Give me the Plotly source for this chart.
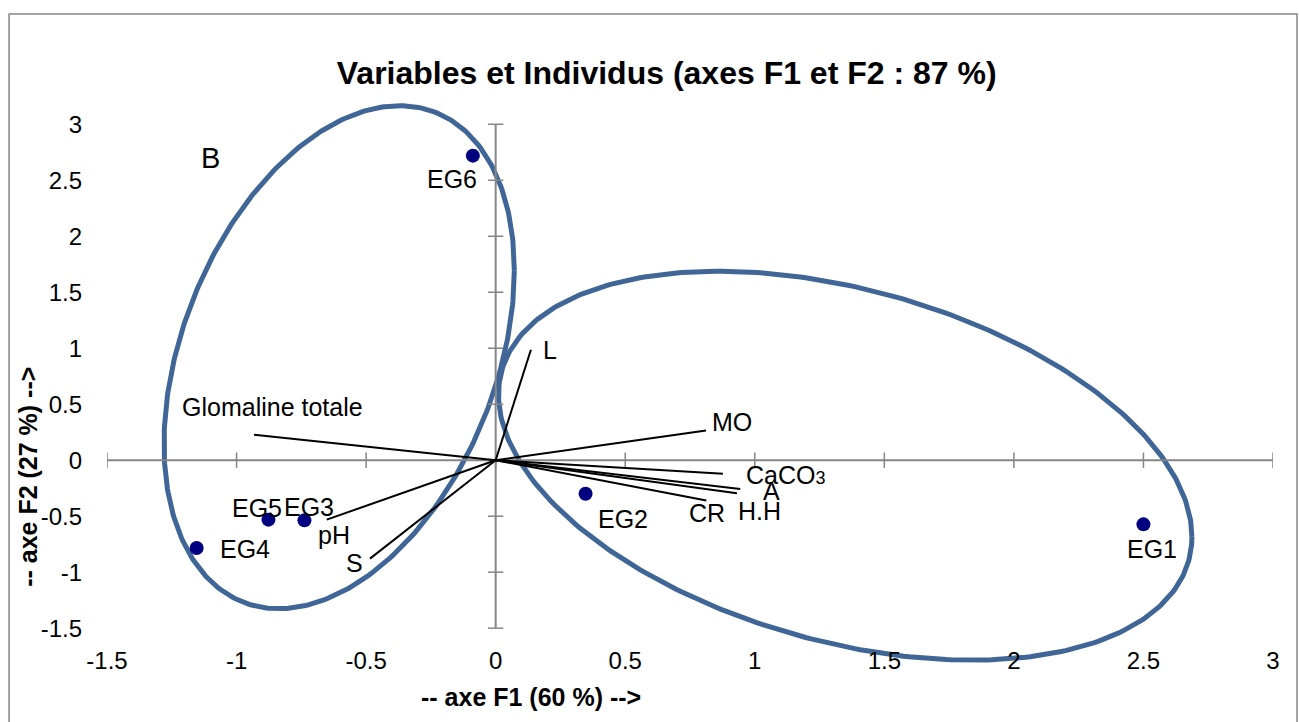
import numpy as np
import plotly.graph_objects as go

# ---- data ----
ind_names = ["EG1", "EG2", "EG3", "EG4", "EG5", "EG6"]
ind_f1 = [2.50, 0.347, -0.738, -1.154, -0.877, -0.088]
ind_f2 = [-0.573, -0.30, -0.537, -0.784, -0.531, 2.72]

var_names = ["L", "MO", "CaCO3", "A", "H.H", "CR", "Glomaline totale", "pH", "S"]
var_f1 = [0.136, 0.812, 0.877, 0.944, 0.931, 0.813, -0.932, -0.652, -0.485]
var_f2 = [0.987, 0.266, -0.121, -0.257, -0.296, -0.359, 0.228, -0.531, -0.879]

tick_vals = [-1.5, -1, -0.5, 0, 0.5, 1, 1.5, 2, 2.5, 3]
tick_text = ["-1.5", "-1", "-0.5", "0", "0.5", "1", "1.5", "2", "2.5", "3"]

# group ellipses: centre (F1, F2), half-extent in F1, half-extent in F2, covariance term
ell_cx = [-0.604, 1.349]
ell_cy = [0.92, -0.049]
ell_hx = [0.676, 1.338]
ell_hy = [2.246, 1.737]
ell_c = [0.523, -0.848]

# ---- styling / placement ----
FONT = "Liberation Sans, Arial, sans-serif"
AX_COL = "#868686"
ELL_COL = "#3F6696"
ind_offsets = {"EG1": (9, 25), "EG2": (37, 25), "EG3": (5, -13), "EG4": (48, 1),
               "EG5": (-11, -12), "EG6": (-21, 23)}
var_offsets = {"L": (19, 0), "MO": (26, -8), "CaCO3": (63, 1), "A": (31, 2), "H.H": (23, 18),
               "CR": (1, 13), "Glomaline totale": (18, -28), "pH": (7, 15), "S": (-16, 4)}
Y_RANGE = [-1.82, 3.19]
X_RANGE = [-1.5, 3]

fig = go.Figure()

# ellipses
t = np.linspace(0, 2 * np.pi, 400)
for cx, cy, hx, hy, c in zip(ell_cx, ell_cy, ell_hx, ell_hy, ell_c):
    ex = cx + hx * np.cos(t)
    ey = cy + (c / hx) * np.cos(t) + np.sqrt(hy ** 2 - (c / hx) ** 2) * np.sin(t)
    fig.add_trace(go.Scatter(x=ex, y=ey, mode="lines", line=dict(color=ELL_COL, width=5),
                             hoverinfo="skip", showlegend=False))

# axes through the origin
fig.add_trace(go.Scatter(x=[tick_vals[0], tick_vals[-1]], y=[0, 0], mode="lines",
                         line=dict(color=AX_COL, width=2), hoverinfo="skip", showlegend=False))
fig.add_trace(go.Scatter(x=[0, 0], y=[tick_vals[0], tick_vals[-1]], mode="lines",
                         line=dict(color=AX_COL, width=2), hoverinfo="skip", showlegend=False))
fig.add_trace(go.Scatter(x=tick_vals, y=[0] * len(tick_vals), mode="markers",
                         marker=dict(symbol="line-ns", size=11, line=dict(color=AX_COL, width=1.5)),
                         hoverinfo="skip", showlegend=False))
fig.add_trace(go.Scatter(x=[0] * len(tick_vals), y=tick_vals, mode="markers",
                         marker=dict(symbol="line-ew", size=11, line=dict(color=AX_COL, width=1.5)),
                         hoverinfo="skip", showlegend=False))

# variable vectors
vx, vy = [], []
for a, b in zip(var_f1, var_f2):
    vx += [0, a, None]
    vy += [0, b, None]
fig.add_trace(go.Scatter(x=vx, y=vy, mode="lines", line=dict(color="black", width=2),
                         hoverinfo="skip", showlegend=False))

# individuals
fig.add_trace(go.Scatter(x=ind_f1, y=ind_f2, mode="markers",
                         marker=dict(color="#000080", size=14), text=ind_names,
                         hoverinfo="text", showlegend=False))

annotations = []
for n, a, b in zip(ind_names, ind_f1, ind_f2):
    dx, dy = ind_offsets[n]
    annotations.append(dict(x=a, y=b, text=n, showarrow=False, xshift=dx, yshift=-dy,
                            font=dict(size=25, color="black", family=FONT)))
for n, a, b in zip(var_names, var_f1, var_f2):
    dx, dy = var_offsets[n]
    label = "CaCO<span style='font-size:18px'>3</span>" if n == "CaCO3" else n
    annotations.append(dict(x=a, y=b, text=label, showarrow=False, xshift=dx, yshift=-dy,
                            font=dict(size=25, color="black", family=FONT)))

# group label B
annotations.append(dict(x=-1.102, y=2.70, text="B", showarrow=False,
                        font=dict(size=29, color="black", family=FONT)))

# axis titles
annotations.append(dict(xref="paper", yref="paper", x=0.364, y=-0.0586, xanchor="center", yanchor="middle",
                        text="<b>-- axe F1 (60 %) --></b>",
                        showarrow=False, font=dict(size=25, color="black", family=FONT)))
annotations.append(dict(xref="paper", yref="paper", x=-0.0678, y=0.3335, xanchor="center", yanchor="middle",
                        text="<b>-- axe F2 (27 %) --></b>",
                        textangle=-90, showarrow=False, font=dict(size=25, color="black", family=FONT)))

fig.update_layout(
    width=1299, height=722,
    margin=dict(l=107, r=26, t=103, b=58),
    paper_bgcolor="white", plot_bgcolor="white",
    title=dict(text="<b>Variables et Individus (axes F1 et F2 : 87 %)</b>",
               x=0.480, xref="paper", xanchor="center", y=0.899, yanchor="middle",
               font=dict(size=32, color="black", family=FONT)),
    annotations=annotations,
    shapes=[dict(type="rect", xref="paper", yref="paper", x0=-0.084, x1=1.0206, y0=-0.126, y1=1.1586,
                 line=dict(color=AX_COL, width=1.5), layer="below")],
    font=dict(family=FONT, color="black"),
)
fig.update_xaxes(range=X_RANGE, tickvals=tick_vals, ticktext=tick_text, showgrid=False,
                 zeroline=False, showline=False, ticks="", ticklabelstandoff=16,
                 anchor="free", position=(tick_vals[0] - Y_RANGE[0]) / (Y_RANGE[1] - Y_RANGE[0]),
                 tickfont=dict(size=24, color="black", family=FONT))
fig.update_yaxes(range=Y_RANGE, tickvals=tick_vals, ticktext=tick_text, showgrid=False,
                 zeroline=False, showline=False, ticks="", ticklabelstandoff=24,
                 tickfont=dict(size=24, color="black", family=FONT))

fig.write_html("out.html", config={"displayModeBar": False},
               post_script="document.body.style.margin='0px';document.body.style.overflow='hidden';")
